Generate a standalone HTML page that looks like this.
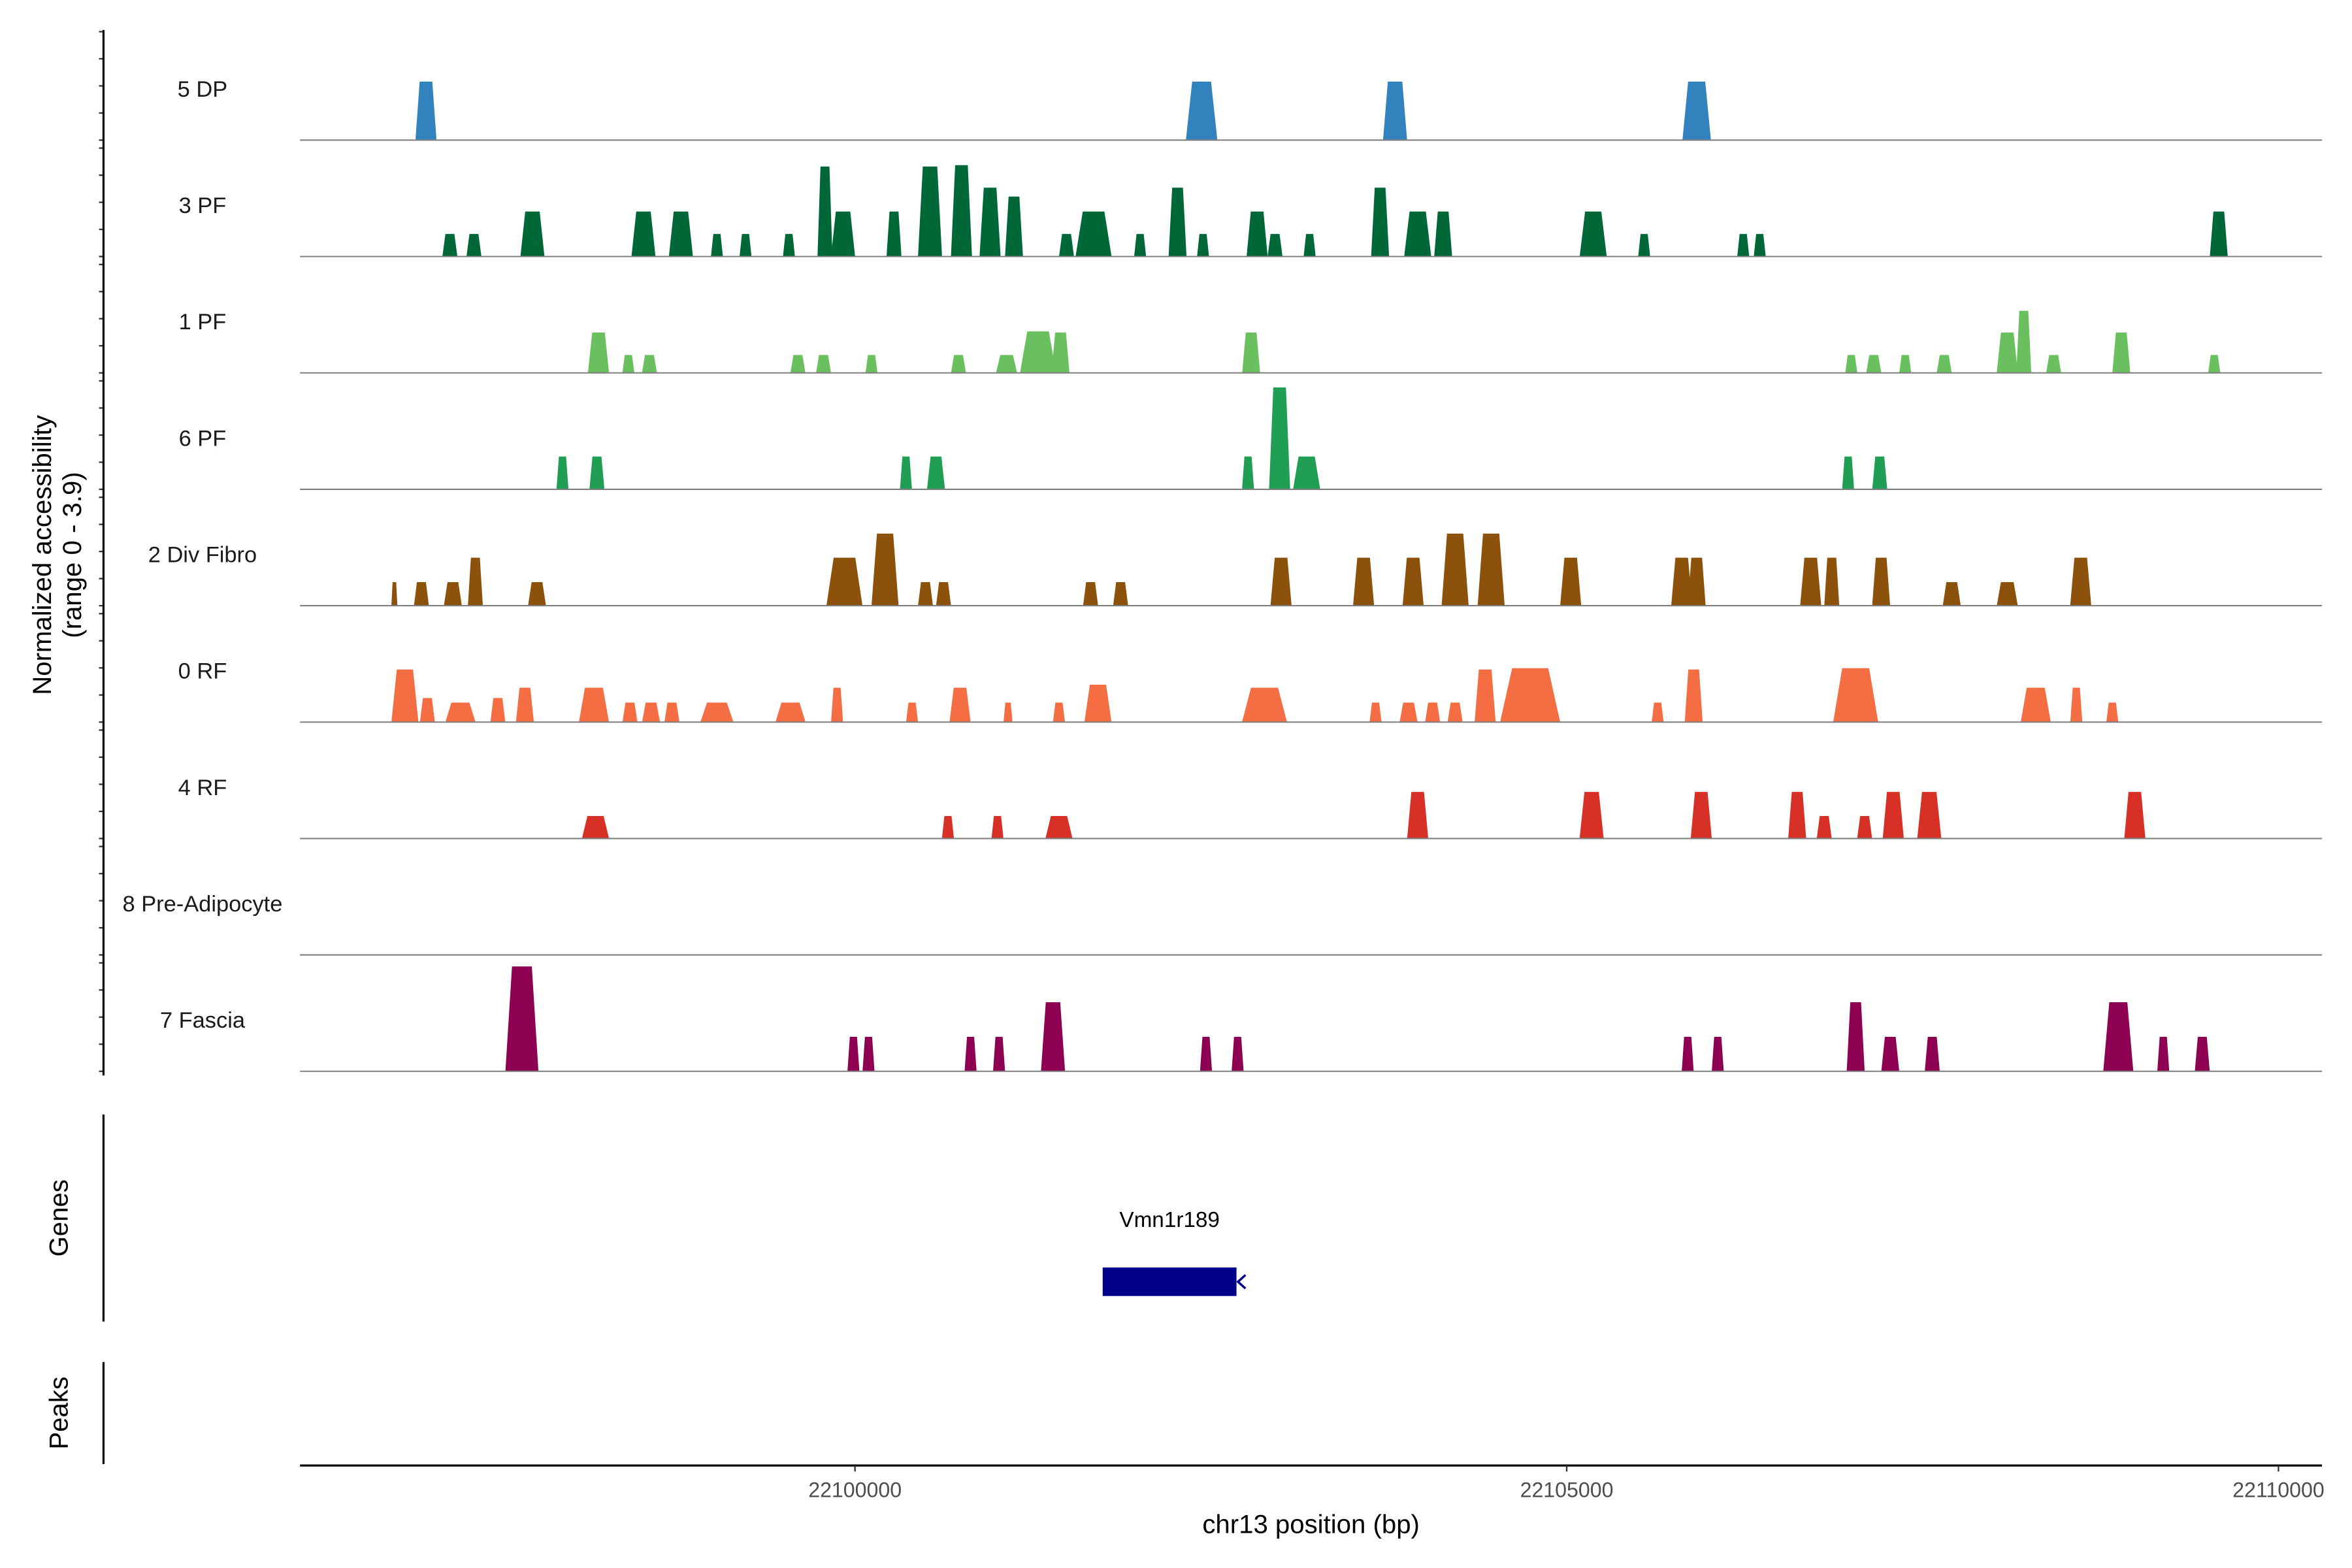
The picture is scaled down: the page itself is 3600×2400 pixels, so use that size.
<!DOCTYPE html>
<html><head><meta charset="utf-8"><style>
html,body{margin:0;padding:0;background:#fff;}
svg{display:block;font-family:"Liberation Sans",sans-serif;}
</style></head><body>
<svg id="chart" xmlns="http://www.w3.org/2000/svg" width="3600" height="2400" viewBox="0 0 1568 1045.33" preserveAspectRatio="none">
<g id="tracks"></g>
<g id="axes"></g>
</svg>
<script>
const trackNames = ["5 DP","3 PF","1 PF","6 PF","2 Div Fibro","0 RF","4 RF","8 Pre-Adipocyte","7 Fascia"];
const trackColors = ["#3182BD","#006837","#6ABF5E","#1F9E54","#8C510A","#F46D43","#D73027","#999999","#8E0152"];
// peaks: [center offset from 22100000 (bp), width (bp), value]
const peaks5DP = [[-3014,148,2.16],[2435,221,2.16],[3794,169,2.16],[5913,200,2.16]];
const peaks3PF = [[-2846,105,0.83],[-2677,105,0.83],[-2266,169,1.66],[-1486,169,1.66],[-1223,169,1.66],[-970,84,0.83],[-769,84,0.83],[-464,84,0.83],[-211,105,3.32],[-84,169,1.66],[274,105,1.66],[527,169,3.32],[748,148,3.37],[949,148,2.54],[1117,126,2.21],[1486,105,0.83],[1676,253,1.66],[2003,84,0.83],[2266,126,2.54],[2445,84,0.83],[2825,148,1.66],[2951,105,0.83],[3194,84,0.83],[3689,126,2.54],[3953,190,1.66],[4132,126,1.66],[5186,190,1.66],[5544,84,0.83],[6240,84,0.83],[6356,84,0.83],[9581,126,1.66]];
const peaks1PF = [[-1802,148,1.49],[-1592,84,0.66],[-1444,105,0.66],[-401,105,0.66],[-221,105,0.66],[116,84,0.66],[727,105,0.66],[1065,148,0.66],[1286,253,1.53],[1444,126,1.49],[2783,126,1.49],[6999,84,0.66],[7157,105,0.66],[7378,84,0.66],[7652,105,0.66],[8095,148,1.49],[8211,105,2.29],[8421,105,0.66],[8896,126,1.49],[9549,84,0.66]];
const peaks6PF = [[-2055,84,1.21],[-1813,105,1.21],[358,84,1.21],[569,126,1.21],[2761,84,1.21],[2983,148,3.76],[3173,190,1.21],[6977,84,1.21],[7199,105,1.21]];
const peaks2Div = [[-3236,42,0.87],[-3046,105,0.87],[-2825,126,0.87],[-2667,105,1.77],[-2234,126,0.87],[-74,253,1.77],[211,190,2.66],[495,105,0.87],[622,105,0.87],[1655,105,0.87],[1866,105,0.87],[2993,148,1.77],[3573,148,1.77],[3921,148,1.77],[4216,190,2.66],[4469,190,2.66],[5028,148,1.77],[5808,148,1.77],[5913,126,1.77],[6714,148,1.77],[6862,105,1.77],[7209,126,1.77],[7705,126,0.87],[8095,148,0.87],[8611,148,1.77]];
const peaks0RF = [[-3162,190,1.94],[-3004,105,0.89],[-2772,211,0.72],[-2509,105,0.89],[-2319,126,1.27],[-1834,211,1.27],[-1581,105,0.72],[-1433,126,0.72],[-1286,105,0.72],[-970,232,0.72],[-453,211,0.72],[-126,84,1.27],[401,84,0.72],[738,148,1.27],[1075,63,0.72],[1433,84,0.72],[1707,190,1.38],[2877,316,1.27],[3657,84,0.72],[3889,126,0.72],[4058,105,0.72],[4216,105,0.72],[4427,148,1.94],[4743,422,1.99],[5639,84,0.72],[5892,126,1.94],[7030,316,1.99],[8295,211,1.27],[8580,84,1.27],[8833,84,0.72]];
const peaks4RF = [[-1823,190,0.83],[653,84,0.83],[1001,84,0.83],[1433,190,0.83],[3953,148,1.72],[5175,169,1.72],[5945,148,1.72],[6619,126,1.72],[6809,105,0.83],[7093,105,0.83],[7294,148,1.72],[7547,169,1.72],[8991,148,1.72]];
const peaks8Pre = [];
const peaks7Fas = [[-2340,232,3.87],[-11,84,1.27],[95,84,1.27],[812,84,1.27],[1012,84,1.27],[1391,169,2.55],[2466,84,1.27],[2688,84,1.27],[5850,84,1.27],[6061,84,1.27],[7030,126,2.55],[7273,126,1.27],[7568,105,1.27],[8875,211,2.55],[9191,84,1.27],[9465,105,1.27]];
const allPeaks = [peaks5DP,peaks3PF,peaks1PF,peaks6PF,peaks2Div,peaks0RF,peaks4RF,peaks8Pre,peaks7Fas];
const xTicks = [22100000,22105000,22110000];
const xTickLabels = ["22100000","22105000","22110000"];
const yTickValues = [0,1,2,3,4];
const geneName = "Vmn1r189";
const geneStart = 22101740, geneEnd = 22102680;

const NS="http://www.w3.org/2000/svg";
const X0=200,X1=1548,D0=22096101,D1=22110306;
function xs(bp){return X0+(bp-D0)/(D1-D0)*(X1-X0);}
const unitPx=18.07, base0=93.4, trackStep=77.6;
function ys(i,v){return base0+i*trackStep-v*unitPx;}
function mk(tag,attrs,parent){const e=document.createElementNS(NS,tag);for(const k in attrs)e.setAttribute(k,attrs[k]);parent.appendChild(e);return e;}
const tg=document.getElementById('tracks'), ag=document.getElementById('axes');

allPeaks.forEach((pk,i)=>{
  const g=mk('g',{},tg);
  
  
  pk.forEach(p=>{
    const c=22100000+p[0], w=p[1], v=p[2];
    const s=xs(c-w/2), e=xs(c+w/2), ts=xs(c-w*0.3), te=xs(c+w*0.3);
    const b=ys(i,0), t=ys(i,v);
    const poly=mk('polygon',{points:`${s},${b} ${ts},${t} ${te},${t} ${e},${b}`,fill:trackColors[i]},g);
    
    
  });
  const bl=mk('line',{x1:X0,x2:X1,y1:ys(i,0),y2:ys(i,0),stroke:'#7f7f7f','stroke-width':0.9},g);
  
  
  const lb=mk('text',{x:135,y:ys(i,0)-29,'font-size':15,'text-anchor':'middle',fill:'#1a1a1a'},g);
  lb.textContent=trackNames[i];
  
  
  yTickValues.forEach(v=>{
    const tk=mk('line',{x1:66,x2:69,y1:ys(i,v),y2:ys(i,v),stroke:'#333','stroke-width':1},ag);
    
    
  });
});
// y axis
let el=mk('line',{x1:69,x2:69,y1:20,y2:717,stroke:'#000','stroke-width':1.4},ag);


el=mk('text',{transform:'translate(34,370) rotate(-90)','font-size':17.5,'text-anchor':'middle',fill:'#000'},ag);
el.textContent='Normalized accessibility';


el=mk('text',{transform:'translate(54,370) rotate(-90)','font-size':17.5,'text-anchor':'middle',fill:'#000'},ag);
el.textContent='(range 0 - 3.9)';


// genes
el=mk('line',{x1:69,x2:69,y1:743,y2:881,stroke:'#000','stroke-width':1.4},ag);


el=mk('text',{transform:'translate(45,812) rotate(-90)','font-size':17.5,'text-anchor':'middle',fill:'#000'},ag);
el.textContent='Genes';


el=mk('text',{x:(xs(geneStart)+xs(geneEnd))/2,y:818,'font-size':14.5,'text-anchor':'middle',fill:'#000'},ag);
el.textContent=geneName;


el=mk('rect',{x:xs(geneStart),y:845,width:xs(geneEnd)-xs(geneStart),height:19,fill:'#00008B'},ag);


el=mk('path',{d:`M${xs(geneEnd)+6},850 L${xs(geneEnd)+1},854.5 L${xs(geneEnd)+6},859`,fill:'none',stroke:'#00008B','stroke-width':1.5},ag);


// peaks
el=mk('line',{x1:69,x2:69,y1:908,y2:976,stroke:'#000','stroke-width':1.4},ag);


el=mk('text',{transform:'translate(45,942) rotate(-90)','font-size':17.5,'text-anchor':'middle',fill:'#000'},ag);
el.textContent='Peaks';


// x axis
el=mk('line',{x1:X0,x2:X1,y1:977,y2:977,stroke:'#000','stroke-width':1.4},ag);


xTicks.forEach((t,k)=>{
  const tk=mk('line',{x1:xs(t),x2:xs(t),y1:977,y2:981,stroke:'#333','stroke-width':1},ag);
  
  
  const tl=mk('text',{x:xs(t),y:998,'font-size':14,'text-anchor':'middle',fill:'#4d4d4d'},ag);
  tl.textContent=xTickLabels[k];
  
  
});
el=mk('text',{x:874,y:1022,'font-size':17.5,'text-anchor':'middle',fill:'#000'},ag);
el.textContent='chr13 position (bp)';


</script>
</body></html>
